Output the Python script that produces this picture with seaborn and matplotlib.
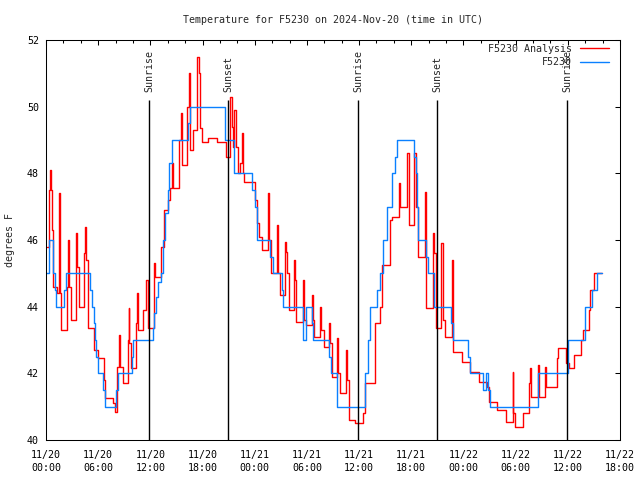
#!/usr/bin/env python3
'''
Temperature for F5230: station observations vs analysis,
gnuplot-like step chart with sunrise/sunset markers.
'''
import matplotlib
matplotlib.use("Agg")
import matplotlib.pyplot as plt
import pandas as pd
import seaborn as sns

# analysis (red), hours since 2024-11-20 00:00 UTC, stepped
analysis_hours = [
    0.1, 0.3, 0.45, 0.55, 0.65, 0.75, 1.3, 1.5, 1.6, 1.7, 2.4, 2.5, 2.6, 2.9,
    3.4, 3.5, 3.6, 3.8, 4.4, 4.5, 4.6, 4.8, 5.5, 6.0, 6.7, 6.8, 7.7, 7.9,
    8.2, 8.4, 8.55, 8.8, 9.4, 9.5, 9.6, 9.8, 10.4, 10.5, 10.6, 11.2, 11.5,
    11.7, 12.4, 12.55, 13.2, 13.6, 14.0, 14.3, 14.5, 14.6, 15.3, 15.5, 15.6,
    16.2, 16.45, 16.6, 16.9, 17.4, 17.55, 17.7, 17.9, 18.6, 19.7, 20.7,
    21.2, 21.35, 21.5, 21.6, 21.9, 22.05, 22.3, 22.5, 22.6, 22.8, 24.0,
    24.3, 24.5, 24.8, 25.5, 25.6, 25.9, 26.6, 26.7, 26.9, 27.45, 27.55,
    27.7, 27.9, 28.5, 28.6, 28.8, 29.6, 29.7, 29.85, 30.55, 30.65, 30.8,
    31.55, 31.65, 32.0, 32.5, 32.6, 32.9, 33.45, 33.55, 33.8, 34.55, 34.65,
    34.8, 35.5, 36.5, 36.7, 37.8, 38.4, 38.6, 39.5, 39.8, 40.6, 40.7,
    41.55, 41.7, 42.3, 42.5, 42.8, 43.55, 43.7, 44.5, 44.6, 44.8, 45.45,
    45.6, 45.9, 46.65, 46.75, 47.8, 48.7, 49.8, 50.7, 50.9, 51.8, 52.9,
    53.65, 53.75, 53.9, 54.8, 55.5, 55.65, 55.75, 56.55, 56.65, 57.4, 57.5,
    58.7, 58.9, 59.8, 60.1, 60.7, 61.5, 61.7, 62.4, 62.6, 63.0, 63.9,
]
analysis_temp = [
    45.8, 47.5, 48.1, 47.5, 46.3, 44.6, 44.4, 47.4, 44.4, 43.3, 44.6, 46.0,
    44.6, 43.6, 45.0, 46.2, 45.2, 44.0, 45.6, 46.4, 45.4, 43.35, 42.7, 42.45,
    41.8, 41.25, 41.1, 40.85, 42.2, 43.15, 42.2, 41.7, 43.0, 43.95, 42.9,
    42.15, 43.5, 44.4, 43.3, 43.9, 44.8, 43.35, 45.3, 44.9, 45.8, 46.9, 47.2,
    47.55, 48.3, 47.55, 49.0, 49.8, 48.25, 50.0, 51.0, 48.7, 49.3, 51.5,
    51.0, 49.35, 48.95, 49.05, 48.95, 48.5, 50.3, 49.4, 48.8, 49.9, 48.8,
    48.0, 48.3, 49.2, 48.0, 47.75, 47.2, 46.5, 46.1, 45.7, 47.4, 46.0, 45.0,
    46.45, 45.0, 44.35, 45.95, 45.65, 45.0, 43.9, 45.4, 44.8, 43.55, 44.8,
    43.6, 43.45, 44.35, 43.6, 43.1, 44.0, 43.3, 42.8, 43.5, 42.9, 41.9,
    43.05, 42.0, 41.4, 42.7, 41.8, 40.6, 40.5, 40.8, 41.7, 43.5, 44.0, 45.25,
    46.6, 46.7, 47.7, 47.0, 48.6, 46.45, 48.6, 47.0, 45.5, 47.45, 43.95,
    46.2, 45.6, 43.35, 45.9, 43.6, 43.1, 45.4, 42.65, 42.35, 42.05, 41.75,
    41.6, 41.15, 40.9, 40.55, 42.05, 40.8, 40.4, 40.8, 41.7, 42.15, 41.3,
    42.25, 41.3, 42.2, 41.6, 42.45, 42.75, 42.3, 42.15, 42.55, 43.0, 43.3,
    43.9, 44.5, 45.0, 45.0,
]

# station observations (blue), stepped
obs_hours = [
    0.0, 0.35, 0.75, 1.0, 1.2, 2.05, 2.3, 5.05, 5.3, 5.5, 5.6, 5.8, 6.0, 6.6,
    6.8, 8.0, 8.25, 9.9, 10.0, 12.3, 12.4, 12.6, 12.9, 13.2, 13.5, 13.7,
    14.0, 14.2, 14.5, 16.3, 16.6, 20.6, 21.6, 23.7, 24.0, 24.3, 25.7, 26.1,
    27.1, 27.3, 29.6, 29.85, 30.6, 30.7, 32.5, 32.8, 33.5, 36.7, 37.0, 37.3,
    38.1, 38.4, 38.8, 39.2, 39.8, 40.1, 40.4, 42.3, 42.5, 42.7, 42.8, 43.7,
    43.9, 44.6, 46.6, 46.8, 48.5, 48.7, 50.3, 50.6, 50.8, 51.1, 56.6, 60.0,
    62.0, 62.8, 63.3, 63.9,
]
obs_temp = [
    45, 46, 45, 44.5, 44, 44.5, 45, 44.5, 44, 43.5, 43, 42.5, 42, 41.5, 41,
    41.5, 42, 42.5, 43, 43.35, 43.8, 44.3, 44.75, 45, 46, 46.8, 47.5, 48.3,
    49, 49.5, 50, 49, 48, 47.5, 47, 46, 45.5, 45, 44.5, 44, 43, 44, 43.5, 43,
    42.5, 42, 41, 42, 43, 44, 44.5, 45, 46, 47, 48, 48.5, 49, 48.5, 48, 47,
    46, 45.5, 45, 44, 43.5, 43, 42.5, 42, 41.5, 42, 41.5, 41, 42, 43, 44,
    44.5, 45, 45,
]

sun_hours = [11.85, 20.93, 35.87, 44.95, 59.95]
sun_labels = ["Sunrise", "Sunset", "Sunrise", "Sunset", "Sunrise"]

xtick_hours = [0, 6, 12, 18, 24, 30, 36, 42, 48, 54, 60, 66]
xtick_labels = ["11/20\n00:00", "11/20\n06:00", "11/20\n12:00", "11/20\n18:00",
                "11/21\n00:00", "11/21\n06:00", "11/21\n12:00", "11/21\n18:00",
                "11/22\n00:00", "11/22\n06:00", "11/22\n12:00", "11/22\n18:00"]
ytick_vals = [40, 42, 44, 46, 48, 50, 52]

sns.set_style("white")
plt.rcParams['font.family'] = ['DejaVu Sans Mono', 'DejaVu Sans']
plt.rcParams['font.size'] = 7.2

analysis = pd.DataFrame({"hours": analysis_hours, "temp": analysis_temp})
obs = pd.DataFrame({"hours": obs_hours, "temp": obs_temp})

fig = plt.figure(figsize=(6.4, 4.8), dpi=100)
ax = fig.add_axes([46 / 640, 40 / 480, 574 / 640, 400 / 480])

sns.lineplot(data=analysis, x="hours", y="temp", ax=ax, color="#ff0000",
             lw=1.0, drawstyle="steps-post", estimator=None,
             label="F5230 Analysis")
sns.lineplot(data=obs, x="hours", y="temp", ax=ax, color="#0a80ff",
             lw=1.0, drawstyle="steps-post", estimator=None, label="F5230")

for h, lab in zip(sun_hours, sun_labels):
    ax.vlines(h, 40, 50.2, color="black", lw=1.0)
    ax.text(h, 50.45, lab, rotation=90, ha="center", va="bottom",
            fontsize=7.2)

ax.set_xlim(0, 66)
ax.set_ylim(40, 52)
ax.set_xticks(xtick_hours)
ax.set_xticklabels(xtick_labels, linespacing=1.35)
ax.set_xticks(range(0, 67, 2), minor=True)
ax.set_yticks(ytick_vals)
ax.set_yticklabels([str(v) for v in ytick_vals])
ax.tick_params(axis="both", which="both", direction="in", top=True,
               right=True, width=0.75, colors="black")
ax.tick_params(axis="both", which="major", length=3.8, pad=5)
ax.tick_params(axis="x", which="minor", length=2.2)
ax.tick_params(axis="x", which="major", pad=7)
for sp in ax.spines.values():
    sp.set_visible(True)
    sp.set_color("black")
    sp.set_linewidth(0.75)

ax.set_xlabel("")
ax.set_ylabel("degrees F")
ax.yaxis.set_label_coords(-0.054, 0.5)
ax.set_title("Temperature for F5230 on 2024-Nov-20 (time in UTC)",
             fontsize=7.2, pad=12)

ax.legend(loc="upper right", bbox_to_anchor=(0.988, 1.0), frameon=False,
          markerfirst=False, handlelength=2.9, handletextpad=0.8,
          labelspacing=0.35, borderaxespad=0.2, borderpad=0.2, fontsize=7.2)

fig.savefig("out.png", dpi=100)
